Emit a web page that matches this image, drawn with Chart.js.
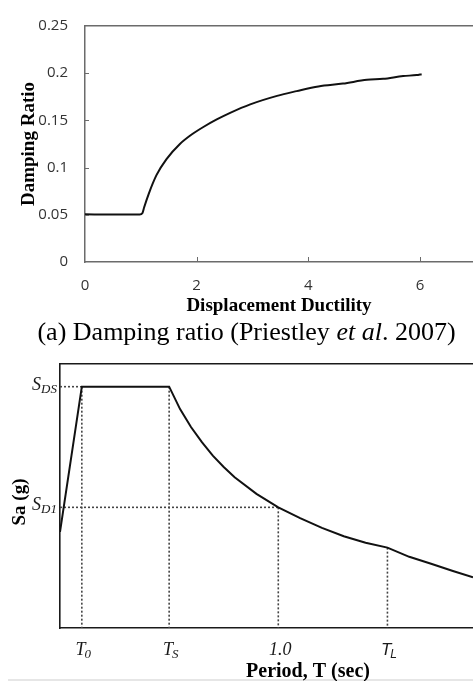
<!DOCTYPE html>
<html>
<head>
<meta charset="utf-8">
<script src="https://cdn.jsdelivr.net/npm/chart.js"></script>
<style>
  html, body { margin:0; padding:0; background:#fff; overflow:hidden; }
  body { width:473px; height:681px; position:relative; }
  #topWrap { position:absolute; left:0; top:0; width:473px; height:318px; }
  #botWrap { position:absolute; left:0; top:350px; width:473px; height:331px; }
  #caption { position:absolute; left:0; top:319px; width:493px; text-align:center;
    font-family:"Liberation Serif", "Times New Roman", serif; font-size:26px; line-height:26px;
    color:#000; white-space:nowrap; }
  #rule { position:absolute; left:8px; top:679px; width:465px; height:2px; background:#e6e6e6; }
</style>
</head>
<body>
<div id="rule"></div>
<div id="topWrap"><canvas id="topChart" width="473" height="318"></canvas></div>
<div id="caption">(a) Damping ratio (Priestley <i>et al</i>. 2007)</div>
<div id="botWrap"><canvas id="botChart" width="473" height="331"></canvas></div>
<script>
// ---------- Data: (a) damping ratio vs displacement ductility ----------
const ductility    = [0, 0.5, 0.98, 1.03, 1.06, 1.14, 1.28, 1.46, 1.70, 1.91, 2.12, 2.36, 2.60, 2.96, 3.44, 3.79, 4.18, 4.62, 5.05, 5.34, 5.70, 5.94, 6.03];
const dampingRatio = [0.0505, 0.0503, 0.0503, 0.052, 0.058, 0.072, 0.092, 0.109, 0.125, 0.135, 0.143, 0.151, 0.158, 0.167, 0.176, 0.181, 0.186, 0.189, 0.193, 0.194, 0.197, 0.198, 0.199];
const ductilityTicks = [0, 2, 4, 6];
const dampingTicksInner = [0.05, 0.1, 0.15, 0.2];

// ---------- Data: design response spectrum ----------
const periodT = [0, 0.1, 0.5, 0.55, 0.6, 0.65, 0.7, 0.75, 0.8, 0.9, 1.0, 1.1, 1.2, 1.3, 1.4, 1.5, 1.6, 1.7, 1.8, 1.892];
const spectralSa = [0.398, 1.0, 1.0, 0.907, 0.833, 0.77, 0.714, 0.667, 0.625, 0.556, 0.5, 0.455, 0.415, 0.38, 0.353, 0.333, 0.295, 0.266, 0.236, 0.21];
const T0 = 0.1, TS = 0.5, T1 = 1.0, TL = 1.5;
const SDS = 1.0, SD1 = 0.5, SaAtTL = 0.333;
const periodTickValues = [T0, TS, T1, TL];
const periodTickMain   = ['T', 'T', '1.0', 'T'];
const periodTickSub    = ['0', 'S', '', 'L'];
const saTickValues = [SDS, SD1];
const saTickMain   = ['S', 'S'];
const saTickSub    = ['DS', 'D1'];

Chart.defaults.animation = false;
Chart.defaults.devicePixelRatio = 1;

// ---------- Top chart ----------
const topGray = '#6b6b6b';
const innerTicks = {
  id: 'innerTicks',
  afterDraw(chart) {
    const {ctx, scales:{x, y}} = chart;
    ctx.save();
    ctx.strokeStyle = topGray; ctx.lineWidth = 1;
    ductilityTicks.forEach(v => {
      if (v === 0) return;
      const px = Math.round(x.getPixelForValue(v)) + 0.5;
      ctx.beginPath(); ctx.moveTo(px, y.bottom); ctx.lineTo(px, y.bottom - 5); ctx.stroke();
    });
    dampingTicksInner.forEach(v => {
      const py = Math.round(y.getPixelForValue(v)) + 0.5;
      ctx.beginPath(); ctx.moveTo(x.left, py); ctx.lineTo(x.left + 4, py); ctx.stroke();
    });
    ctx.restore();
  }
};

new Chart(document.getElementById('topChart'), {
  type: 'line',
  data: {
    datasets: [{
      data: ductility.map((d, i) => ({x: d, y: dampingRatio[i]})),
      borderColor: '#111', borderWidth: 2, pointRadius: 0,
      cubicInterpolationMode: 'monotone', fill: false
    }]
  },
  options: {
    responsive: false,
    layout: { padding: 0 },
    plugins: { legend: {display:false}, tooltip: {enabled:false} },
    scales: {
      x: {
        type: 'linear', position: 'bottom', min: 0, max: 6.95,
        afterBuildTicks: axis => { axis.ticks = ductilityTicks.map(v => ({value: v})); },
        afterFit: axis => { axis.height = 56; },
        grid: { display:false, drawTicks:false },
        border: { display:true, color: topGray, width: 1.5 },
        ticks: { padding: 15, color: '#333', font: {family:'"Open Sans"', size: 15} },
        title: { display:true, text:'Displacement Ductility', color:'#000',
                 font: {family:'"Liberation Serif"', weight:'bold', size:19}, padding:{top:0, bottom:1} }
      },
      xTop: {
        type: 'linear', position: 'top', min: 0, max: 6.95,
        afterFit: axis => { axis.height = 14; },
        grid: { display:false, drawTicks:false },
        border: { display:true, color: topGray, width: 1.5 },
        ticks: { display:false }
      },
      y: {
        type: 'linear', min: 0, max: 0.25,
        ticks: { stepSize: 0.05, padding: 17, color:'#333', font: {family:'"Open Sans"', size: 15},
                 callback: v => String(Number(v.toFixed(2))) },
        afterFit: axis => { axis.width = 85; },
        grid: { display:false, drawTicks:false },
        border: { display:true, color: topGray, width: 1.5 },
        title: { display:true, text:'Damping Ratio', color:'#000',
                 font: {family:'"Liberation Serif"', weight:'bold', size:19}, padding:{top:18, bottom:0} }
      }
    }
  },
  plugins: [innerTicks]
});

// ---------- Bottom chart ----------
const serif = '"Liberation Serif"';
const spectrumText = {
  id: 'spectrumText',
  afterDraw(chart) {
    const {ctx, scales:{x, y}} = chart;
    ctx.save();
    ctx.fillStyle = '#1a1a1a';
    ctx.textAlign = 'left';
    ctx.textBaseline = 'alphabetic';
    // period tick labels
    periodTickValues.forEach((v, i) => {
      const px = x.getPixelForValue(v);
      const isSans = (i === 3);
      const mainFont = isSans ? 'italic 17px "Liberation Sans"' : 'italic 18px ' + serif;
      const subFont  = isSans ? 'italic 12px "Liberation Sans"' : 'italic 13px ' + serif;
      ctx.font = mainFont; const wm = ctx.measureText(periodTickMain[i]).width;
      ctx.font = subFont;  const ws = periodTickSub[i] ? ctx.measureText(periodTickSub[i]).width : 0;
      const x0 = px - (wm + ws) / 2 + 2;
      const base = x.top + 27;
      ctx.font = mainFont; ctx.fillText(periodTickMain[i], x0, base);
      if (periodTickSub[i]) { ctx.font = subFont; ctx.fillText(periodTickSub[i], x0 + wm - 1, base + 3); }
    });
    // Sa tick labels
    saTickValues.forEach((v, i) => {
      const py = y.getPixelForValue(v);
      const mainFont = 'italic 18px ' + serif, subFont = 'italic 13px ' + serif;
      ctx.font = mainFont; const wm = ctx.measureText(saTickMain[i]).width;
      ctx.font = subFont;  const ws = ctx.measureText(saTickSub[i]).width;
      const x0 = y.right - 3 - (wm + ws);
      ctx.font = mainFont; ctx.fillText(saTickMain[i], x0, py + 3);
      ctx.font = subFont;  ctx.fillText(saTickSub[i], x0 + wm, py + 6);
    });
    // axis titles
    ctx.fillStyle = '#000';
    ctx.textAlign = 'center'; ctx.textBaseline = 'middle';
    ctx.font = 'bold 20px ' + serif;
    ctx.fillText('Period, T (sec)', x.left + 248, x.bottom - 9);
    ctx.translate(20, (y.top + y.bottom) / 2 + 6);
    ctx.rotate(-Math.PI / 2);
    ctx.font = 'bold 19px ' + serif;
    ctx.fillText('Sa (g)', 0, 0);
    ctx.restore();
  }
};

const guideStyle = { borderColor:'#444', borderWidth:1.6, borderDash:[2,2], pointRadius:0, fill:false, tension:0 };
const guideSegments = [
  [[0, SDS], [T0, SDS]],
  [[T0, SDS], [T0, 0]],
  [[TS, SDS], [TS, 0]],
  [[0, SD1], [T1, SD1]],
  [[T1, SD1], [T1, 0]],
  [[TL, SaAtTL], [TL, 0]]
];

new Chart(document.getElementById('botChart'), {
  type: 'line',
  data: {
    datasets: [
      { data: periodT.map((t, i) => ({x: t, y: spectralSa[i]})),
        borderColor:'#111', borderWidth:2, pointRadius:0, tension:0, fill:false }
    ].concat(guideSegments.map(seg => Object.assign({
        data: seg.map(p => ({x: p[0], y: p[1]}))
      }, guideStyle)))
  },
  options: {
    responsive: false,
    layout: { padding: 0 },
    plugins: { legend: {display:false}, tooltip: {enabled:false} },
    scales: {
      x: {
        type: 'linear', position: 'bottom', min: 0, max: 1.892,
        afterFit: axis => { axis.height = 53; },
        grid: { display:false, drawTicks:false },
        border: { display:true, color:'#1a1a1a', width:1.6 },
        ticks: { display:false }
      },
      xTop: {
        type: 'linear', position: 'top', min: 0, max: 1.892,
        afterFit: axis => { axis.height = 14; },
        grid: { display:false, drawTicks:false },
        border: { display:true, color:'#1a1a1a', width:1.6 },
        ticks: { display:false }
      },
      y: {
        type: 'linear', min: 0, max: 1.094,
        afterFit: axis => { axis.width = 60; },
        grid: { display:false, drawTicks:false },
        border: { display:true, color:'#1a1a1a', width:1.6 },
        ticks: { display:false }
      }
    }
  },
  plugins: [spectrumText]
});
</script>
</body>
</html>
